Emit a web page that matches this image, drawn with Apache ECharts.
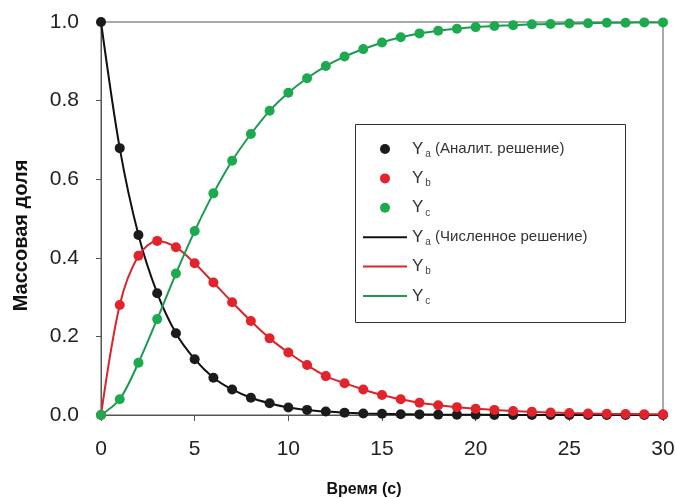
<!DOCTYPE html>
<html>
<head>
<meta charset="utf-8">
<script src="https://cdn.jsdelivr.net/npm/echarts@6/dist/echarts.min.js"></script>
<style>
  html, body { margin: 0; padding: 0; background: #fff; }
  #chart { width: 677px; height: 498px; }
</style>
</head>
<body>
<div id="chart"></div>
<script>
// Time grid, seconds
const times = [0,1,2,3,4,5,6,7,8,9,10,11,12,13,14,15,16,17,18,19,20,21,22,23,24,25,26,27,28,29,30];

// Mass fractions of A, B, C
const yA = [1.0, 0.679, 0.458, 0.310, 0.208, 0.142, 0.095, 0.065, 0.044, 0.030, 0.019,
            0.013, 0.009, 0.006, 0.004, 0.003, 0.002, 0.0015, 0.001, 0.0007, 0.0005,
            0.0003, 0.0002, 0.0002, 0.0001, 0.0001, 0, 0, 0, 0, 0];
const yB = [0, 0.280, 0.405, 0.443, 0.427, 0.386, 0.337, 0.287, 0.239, 0.195, 0.159,
            0.127, 0.099, 0.081, 0.065, 0.051, 0.040, 0.031, 0.025, 0.020, 0.016,
            0.013, 0.010, 0.008, 0.0065, 0.005, 0.004, 0.003, 0.0025, 0.002, 0.0016];
const yC = [0, 0.040, 0.133, 0.244, 0.360, 0.468, 0.564, 0.647, 0.715, 0.774, 0.820,
            0.857, 0.888, 0.912, 0.931, 0.948, 0.961, 0.971, 0.978, 0.983, 0.987,
            0.990, 0.992, 0.994, 0.995, 0.996, 0.997, 0.998, 0.998, 0.999, 0.999];

const xTicks = [0, 5, 10, 15, 20, 25, 30];
const yTicks = [0.0, 0.2, 0.4, 0.6, 0.8, 1.0];

const pairs = (vals) => times.map((t, i) => [t, vals[i]]);

const dotColors = { A: '#1b1b1b', B: '#e3232b', C: '#1daa4f' };
const lineColors = { A: '#111111', B: '#d9262c', C: '#1b9a52' };

// legend labels: Y with subscript, plus an optional note
const legendText = {
  'A_an':  '{y|Y}{s|a}{t| (Аналит. решение)}',
  'B_an':  '{y|Y}{s|b}',
  'C_an':  '{y|Y}{s|c}',
  'A_num': '{y|Y}{s|a}{t| (Численное решение)}',
  'B_num': '{y|Y}{s|b}',
  'C_num': '{y|Y}{s|c}'
};

// thin bar used as the legend icon of the curves
const lineIcon = 'path://M0,0 L44,0 L44,2 L0,2 Z';

function lineSeries(name, vals, color) {
  return {
    name: name, type: 'line', data: pairs(vals),
    smooth: 0.3,
    symbol: 'none', showSymbol: false,
    lineStyle: { color: color, width: 2 },
    itemStyle: { color: color },
    z: 2
  };
}
function dotSeries(name, vals, color) {
  return {
    name: name, type: 'scatter', data: pairs(vals),
    symbol: 'circle', symbolSize: 10,
    itemStyle: { color: color, opacity: 1 },
    z: 3
  };
}

const chart = echarts.init(document.getElementById('chart'), null, { renderer: 'canvas' });
chart.setOption({
  animation: false,
  backgroundColor: '#fff',
  grid: {
    left: 101, right: 14, top: 22, bottom: 83,
    outerBoundsMode: 'none',
    show: true, borderColor: '#555', borderWidth: 1, backgroundColor: 'transparent'
  },
  xAxis: {
    type: 'value', min: 0, max: 30, interval: 5,
    name: 'Время (с)', nameLocation: 'middle', nameGap: 67,
    nameTextStyle: { fontFamily: 'Liberation Sans', fontSize: 16, fontWeight: 'bold', color: '#111',
                     padding: [0, 36, 0, 0] },
    axisLine: { show: true, lineStyle: { color: '#555', width: 1 } },
    axisTick: { show: true, inside: false, length: 6, lineStyle: { color: '#555' } },
    splitLine: { show: false },
    axisLabel: {
      margin: 24, fontFamily: 'Liberation Sans', fontSize: 21, color: '#222',
      formatter: (v) => xTicks.includes(v) ? String(v) : ''
    }
  },
  yAxis: {
    type: 'value', min: 0, max: 1, interval: 0.2,
    name: 'Массовая доля', nameLocation: 'middle', nameGap: 70, nameRotate: 90,
    nameTextStyle: { fontFamily: 'Liberation Sans', fontSize: 20, fontWeight: 'bold', color: '#111',
                     padding: [0, 34, 0, 0] },
    axisLine: { show: true, lineStyle: { color: '#555', width: 1 } },
    axisTick: { show: true, inside: false, length: 5, lineStyle: { color: '#555' } },
    splitLine: { show: false },
    axisLabel: {
      margin: 22, fontFamily: 'Liberation Sans', fontSize: 21, color: '#222',
      formatter: (v) => {
        const t = yTicks.find(k => Math.abs(k - v) < 1e-9);
        return t === undefined ? '' : t.toFixed(1);
      }
    }
  },
  legend: {
    orient: 'vertical', left: 363, top: 139, padding: 0,
    itemWidth: 44, itemHeight: 10, itemGap: 9.4, itemTextGap: 11,
    selectedMode: false,
    data: [
      { name: 'A_an', icon: 'circle' },
      { name: 'B_an', icon: 'circle' },
      { name: 'C_an', icon: 'circle' },
      { name: 'A_num', icon: lineIcon },
      { name: 'B_num', icon: lineIcon },
      { name: 'C_num', icon: lineIcon }
    ],
    formatter: (n) => legendText[n],
    textStyle: {
      fontFamily: 'Liberation Sans', color: '#333',
      rich: {
        y: { fontSize: 17, lineHeight: 20, color: '#333', fontFamily: 'Liberation Sans' },
        s: { fontSize: 10, lineHeight: 20, color: '#444', fontFamily: 'Liberation Sans', padding: [10, 0, 0, 2] },
        t: { fontSize: 15, lineHeight: 20, color: '#333', fontFamily: 'Liberation Sans' }
      }
    }
  },
  graphic: [{
    type: 'rect', left: 353, top: 122, z: 10, silent: true,
    shape: { width: 270, height: 198 },
    style: { fill: 'none', stroke: '#333', lineWidth: 1 }
  }],
  series: [
    lineSeries('A_num', yA, lineColors.A),
    lineSeries('B_num', yB, lineColors.B),
    lineSeries('C_num', yC, lineColors.C),
    dotSeries('A_an', yA, dotColors.A),
    dotSeries('B_an', yB, dotColors.B),
    dotSeries('C_an', yC, dotColors.C)
  ]
});
</script>
</body>
</html>
